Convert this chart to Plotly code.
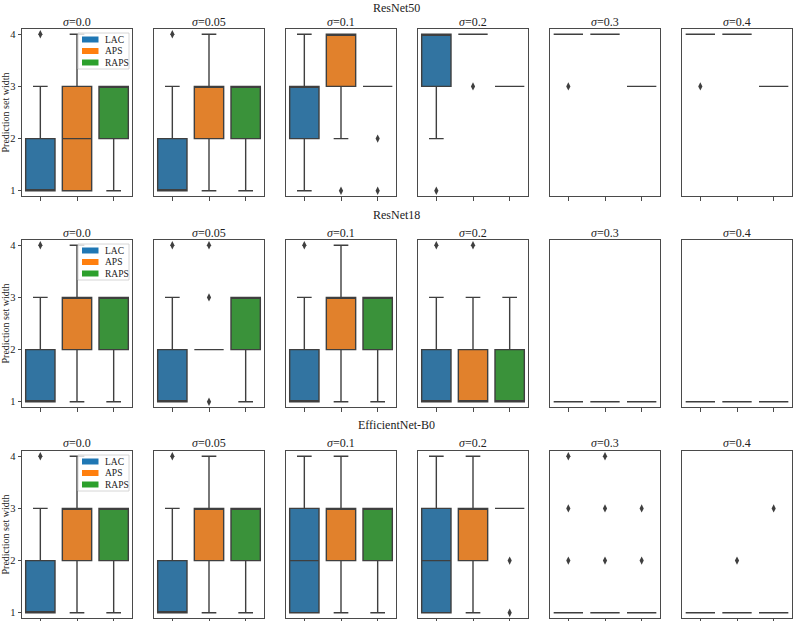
import plotly.graph_objects as go

# ---------------- data ----------------
METHODS = ["LAC", "APS", "RAPS"]
SIGMAS = ["0.0", "0.05", "0.1", "0.2", "0.3", "0.4"]
MODELS = ["ResNet50", "ResNet18", "EfficientNet-B0"]

# rows = sigma, columns = method (LAC, APS, RAPS)
r50_q1 = [[1, 1, 2], [1, 2, 2], [2, 3, 3], [3, 4, 3], [4, 4, 3], [4, 4, 3]]
r50_med = [[1, 2, 3], [1, 3, 3], [3, 4, 3], [4, 4, 3], [4, 4, 3], [4, 4, 3]]
r50_q3 = [[2, 3, 3], [2, 3, 3], [3, 4, 3], [4, 4, 3], [4, 4, 3], [4, 4, 3]]
r50_lo = [[1, 1, 1], [1, 1, 1], [1, 2, 3], [2, 4, 3], [4, 4, 3], [4, 4, 3]]
r50_hi = [[3, 4, 3], [3, 4, 3], [4, 4, 3], [4, 4, 3], [4, 4, 3], [4, 4, 3]]
r50_out = [[[4], [], []], [[4], [], []], [[], [1], [2, 1]],
           [[1], [3], []], [[3], [], []], [[3], [], []]]

r18_q1 = [[1, 2, 2], [1, 2, 2], [1, 2, 2], [1, 1, 1], [1, 1, 1], [1, 1, 1]]
r18_med = [[1, 3, 3], [1, 2, 3], [1, 3, 3], [1, 1, 1], [1, 1, 1], [1, 1, 1]]
r18_q3 = [[2, 3, 3], [2, 2, 3], [2, 3, 3], [2, 2, 2], [1, 1, 1], [1, 1, 1]]
r18_lo = [[1, 1, 1], [1, 2, 1], [1, 1, 1], [1, 1, 1], [1, 1, 1], [1, 1, 1]]
r18_hi = [[3, 4, 3], [3, 2, 3], [3, 4, 3], [3, 3, 3], [1, 1, 1], [1, 1, 1]]
r18_out = [[[4], [], []], [[4], [4, 3, 1], []], [[4], [], []],
           [[4], [4], []], [[], [], []], [[], [], []]]

eb0_q1 = [[1, 2, 2], [1, 2, 2], [1, 2, 2], [1, 2, 3], [1, 1, 1], [1, 1, 1]]
eb0_med = [[1, 3, 3], [1, 3, 3], [2, 3, 3], [2, 3, 3], [1, 1, 1], [1, 1, 1]]
eb0_q3 = [[2, 3, 3], [2, 3, 3], [3, 3, 3], [3, 3, 3], [1, 1, 1], [1, 1, 1]]
eb0_lo = [[1, 1, 1], [1, 1, 1], [1, 1, 1], [1, 1, 3], [1, 1, 1], [1, 1, 1]]
eb0_hi = [[3, 4, 3], [3, 4, 3], [4, 4, 3], [4, 4, 3], [1, 1, 1], [1, 1, 1]]
eb0_out = [[[4], [], []], [[4], [], []], [[], [], []],
           [[], [], [2, 1]], [[4, 3, 2], [4, 3, 2], [3, 2]], [[], [2], [3]]]

YTICKS = [1, 2, 3, 4]

STATS = [
    (r50_q1, r50_med, r50_q3, r50_lo, r50_hi, r50_out),
    (r18_q1, r18_med, r18_q3, r18_lo, r18_hi, r18_out),
    (eb0_q1, eb0_med, eb0_q3, eb0_lo, eb0_hi, eb0_out),
]

# ---------------- style ----------------
BOX_COLORS = ["#3274a1", "#e1812c", "#3a923a"]
LEG_COLORS = ["#1f77b4", "#ff7f0e", "#2ca02c"]
LINE = "#3f3f3f"
SPINE = "#4a4a4a"
FONT = "Liberation Serif"

W, H = 793, 621
COL_LEFT = [22, 154, 286, 418, 550, 682]
PW = 110
ROW_TOP = [29, 240, 451]
PH = 167
MODEL_TITLE_Y = [8, 215, 425]


def px(x):
    return x / W


def py(y):
    return 1 - y / H


fig = go.Figure()
annotations = []
shapes = []
layout = {}

for r, (q1, med, q3, lo, hi, out) in enumerate(STATS):
    for c, sig in enumerate(SIGMAS):
        n = r * 6 + c + 1
        xa = "x" if n == 1 else f"x{n}"
        ya = "y" if n == 1 else f"y{n}"
        for m, meth in enumerate(METHODS):
            fig.add_trace(go.Box(
                x=[m], q1=[q1[c][m]], median=[med[c][m]], q3=[q3[c][m]],
                lowerfence=[lo[c][m]], upperfence=[hi[c][m]],
                width=0.8, whiskerwidth=0.5, boxpoints=False,
                fillcolor=BOX_COLORS[m], line=dict(color=LINE, width=1.4),
                xaxis=xa, yaxis=ya, showlegend=False, name=meth,
            ))
            if out[c][m]:
                fig.add_trace(go.Scatter(
                    x=[m] * len(out[c][m]), y=out[c][m], mode="markers",
                    marker=dict(symbol="diamond-tall", size=6, color=LINE),
                    xaxis=xa, yaxis=ya, showlegend=False, hoverinfo="y",
                ))
        x0, x1 = COL_LEFT[c], COL_LEFT[c] + PW
        y0, y1 = ROW_TOP[r], ROW_TOP[r] + PH
        sfx = "" if n == 1 else str(n)
        layout[f"xaxis{sfx}"] = dict(
            domain=[px(x0), px(x1)], range=[-0.5, 2.5], anchor=ya,
            tickvals=[0, 1, 2], showticklabels=False, ticks="outside",
            ticklen=3.5, tickwidth=0.8, tickcolor=SPINE,
            showline=True, mirror=True, linecolor=SPINE, linewidth=1,
            showgrid=False, zeroline=False, fixedrange=True,
        )
        layout[f"yaxis{sfx}"] = dict(
            domain=[py(y1), py(y0)], range=[0.9, 4.1], anchor=xa,
            tickvals=YTICKS, showticklabels=(c == 0),
            ticks="outside" if c == 0 else "", ticklen=3.5, tickwidth=0.8,
            tickcolor=SPINE, tickfont=dict(family=FONT, size=10.5, color="#222"),
            showline=True, mirror=True, linecolor=SPINE, linewidth=1,
            showgrid=False, zeroline=False, fixedrange=True,
        )
        annotations.append(dict(
            text=f"<i>σ</i>=" + sig, x=px((x0 + x1) / 2), y=py(y0 - 7.5),
            xref="paper", yref="paper", showarrow=False,
            xanchor="center", yanchor="middle",
            font=dict(family=FONT, size=12, color="#222"),
        ))
        if c == 0:
            # manual legend (matplotlib-like patches)
            shapes.append(dict(
                type="rect", xref="paper", yref="paper",
                x0=px(x0 + 56), x1=px(x0 + 107), y0=py(y0 + 4), y1=py(y0 + 40),
                line=dict(color="#cccccc", width=0.8),
                fillcolor="rgba(255,255,255,0.8)", layer="above",
            ))
            for m, meth in enumerate(METHODS):
                cy = y0 + 10.5 + m * 11.5
                shapes.append(dict(
                    type="rect", xref="paper", yref="paper",
                    x0=px(x0 + 60), x1=px(x0 + 76.5),
                    y0=py(cy + 3), y1=py(cy - 3),
                    line=dict(width=0), fillcolor=LEG_COLORS[m], layer="above",
                ))
                annotations.append(dict(
                    text=meth, x=px(x0 + 80.5), y=py(cy), xref="paper",
                    yref="paper", showarrow=False, xanchor="left",
                    yanchor="middle",
                    font=dict(family=FONT, size=9.5, color="#222"),
                ))
            annotations.append(dict(
                text="Prediction set width", x=px(5), y=py((y0 + y1) / 2),
                xref="paper", yref="paper", showarrow=False, textangle=-90,
                xanchor="center", yanchor="middle",
                font=dict(family=FONT, size=10, color="#222"),
            ))
    annotations.append(dict(
        text=MODELS[r], x=0.5, y=py(MODEL_TITLE_Y[r]), xref="paper",
        yref="paper", showarrow=False, xanchor="center", yanchor="middle",
        font=dict(family=FONT, size=12, color="#222"),
    ))

fig.update_layout(
    width=W, height=H, margin=dict(l=0, r=0, t=0, b=0),
    paper_bgcolor="white", plot_bgcolor="white",
    boxmode="overlay", showlegend=False,
    annotations=annotations, shapes=shapes, **layout,
)

fig.write_html("out.html")
